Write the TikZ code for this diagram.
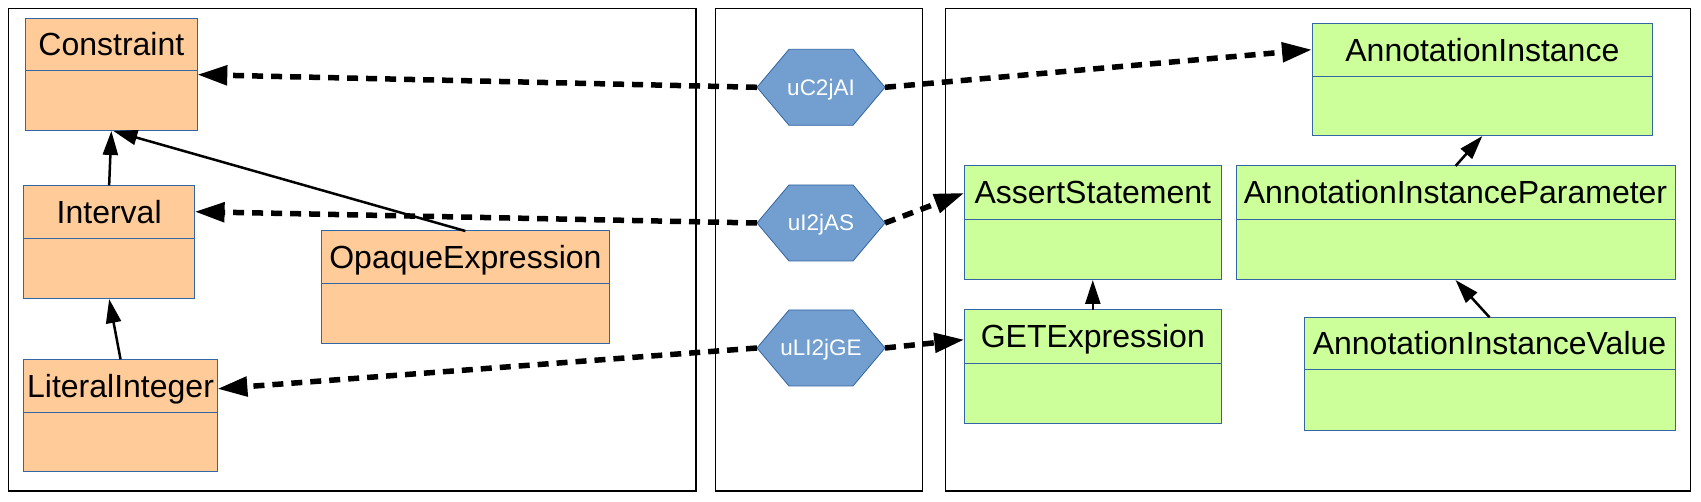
\documentclass[tikz,border=0pt]{standalone}
\usepackage{fontspec}
\setmainfont{Liberation Sans}
\usetikzlibrary{arrows.meta}
\definecolor{clsorange}{HTML}{FFCC99}
\definecolor{clsgreen}{HTML}{CCFF99}
\definecolor{clsblue}{HTML}{3465A4}
\definecolor{hexfill}{HTML}{729FCF}
% #1 name, #2 x1, #3 y1, #4 x2, #5 y2, #6 divider y, #7 fill, #8 text
\newcommand{\umlcls}[8]{%
  \node[clsbox, fill=#7, minimum width={(#4)-(#2)}, minimum height={(#5)-(#3)}]
    (#1) at ({((#2)+(#4))/2},{((#3)+(#5))/2}) {};
  \draw[clsline] (#2,#6) -- (#4,#6);
  \node[clstext] (#1t) at ({((#2)+(#4))/2},{((#3)+(#6))/2+11.3}) {#8};
}
% #1 name, #2 x, #3 y, #4 text
\newcommand{\umlhex}[4]{%
  \coordinate (#1c) at (#2,#3);
  \filldraw[hexshape] ([xshift=-64pt]#1c) -- ++(32,-38) -- ++(64,0) -- ++(32,38)
      -- ++(-32,38) -- ++(-64,0) -- cycle;
  \node[hexnode] (#1) at (#1c) {};
  \node[hextext] (#1t) at (#2,#3+7.8) {#4};
}
\begin{document}
\begin{tikzpicture}[x=1pt,y=-1pt,
  panel/.style={draw=black, line width=1.3pt},
  clsbox/.style={draw=clsblue, line width=1pt, rectangle, inner sep=0pt, outer sep=0pt},
  clsline/.style={draw=clsblue, line width=1pt},
  clstext/.style={font=\fontsize{32}{36}\selectfont, inner sep=0pt, anchor=base, text=black},
  hexnode/.style={rectangle, minimum width=128pt, minimum height=76pt, inner sep=0pt, outer sep=0pt},
  hextext/.style={font=\fontsize{22.5}{26}\selectfont, inner sep=0pt, anchor=base, text=white},
  hexshape/.style={fill=hexfill, draw=clsblue, line width=0.8pt, line join=miter},
  inherit/.style={line width=2.5pt, -{Triangle[length=24pt,width=15pt]}},
  mapping/.style={line width=5.5pt, dash pattern=on 11pt off 8pt, -{Triangle[length=30pt,width=19pt]}}
]
\useasboundingbox (0,0) rectangle (1701,502);
\fill[white] (0,0) rectangle (1701,502);

% panels
\draw[panel] (8.5,8.3) rectangle (696,491);
\draw[panel] (715.3,8.3) rectangle (922.3,491);
\draw[panel] (945.3,8.3) rectangle (1690.7,491);

% left classes
\umlcls{Constraint}{25.4}{18.3}{197.3}{131}{71}{clsorange}{Constraint}
\umlcls{Interval}{23.7}{185.3}{194.6}{299}{238.3}{clsorange}{Interval}
\umlcls{LiteralInteger}{23.7}{359.3}{217.4}{472}{412.3}{clsorange}{LiteralInteger}
\umlcls{OpaqueExpression}{321.4}{231}{609.4}{344}{283.3}{clsorange}{OpaqueExpression}

% right classes
\umlcls{AnnotationInstance}{1312}{23.3}{1652.7}{136}{76.3}{clsgreen}{AnnotationInstance}
\umlcls{AssertStatement}{964.3}{166}{1221.3}{280}{219.3}{clsgreen}{AssertStatement}
\umlcls{AnnotationInstanceParameter}{1236}{166}{1675}{280}{219.3}{clsgreen}{AnnotationInstanceParameter}
\umlcls{GETExpression}{964.3}{310}{1221.3}{423.3}{363.3}{clsgreen}{GETExpression}
\umlcls{AnnotationInstanceValue}{1304}{317.3}{1675}{431}{370}{clsgreen}{AnnotationInstanceValue}

% mapping hexagons
\umlhex{hC}{821}{87.3}{uC2jAI}
\umlhex{hI}{821}{223}{uI2jAS}
\umlhex{hL}{821}{348}{uLI2jGE}

% inheritance
\draw[inherit] (Interval.north) -- (Constraint.south);
\draw[inherit] (OpaqueExpression.north) -- ([xshift=2pt]Constraint.south);
\draw[inherit] (LiteralInteger.north) -- (Interval.south);
\draw[inherit] (GETExpression.north) -- (AssertStatement.south);
\draw[inherit] (AnnotationInstanceParameter.north) -- (AnnotationInstance.south);
\draw[inherit] (AnnotationInstanceValue.north) -- (AnnotationInstanceParameter.south);

% mappings
\draw[mapping] (hC.west) -- (Constraint.east);
\draw[mapping] (hC.east) -- (AnnotationInstance.west |- AnnotationInstancet);
\draw[mapping] (hI.west) -- (Interval.east |- Intervalt);
\draw[mapping] (hI.east) -- (AssertStatement.west |- AssertStatementt);
\draw[mapping] (hL.west) -- (LiteralInteger.east |- LiteralIntegert);
\draw[mapping] (hL.east) -- (GETExpression.west |- GETExpressiont);
\end{tikzpicture}
\end{document}
